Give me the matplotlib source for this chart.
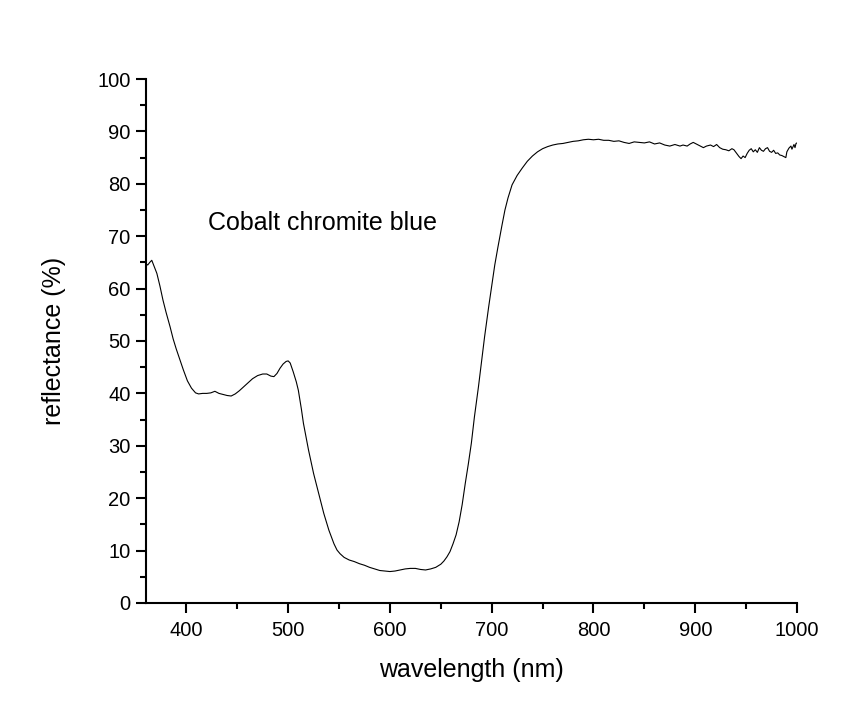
import numpy as np
import matplotlib.pyplot as plt
from matplotlib.ticker import MultipleLocator

plt.rcParams['font.family'] = ['Liberation Sans', 'DejaVu Sans']

# reflectance spectrum
wavelength = [360, 362, 364, 366, 368, 371, 374, 377, 380, 384, 387, 390, 394, 397,
              401, 405, 409, 412, 416, 420, 424, 428, 432, 436, 440, 444, 448, 452,
              456, 460, 465, 470, 475, 479, 483, 486, 489, 492, 495, 498, 500, 502,
              505, 508, 510, 513, 515, 518, 520, 525, 530, 535, 540, 545, 548, 551,
              555, 560, 565, 570, 575, 580, 585, 590, 595, 600, 605, 610, 615, 620,
              625, 630, 635, 640, 645, 650, 653, 656, 659, 662, 665, 668, 671, 674,
              677, 680, 683, 687, 690, 693, 697, 700, 703, 706, 710, 713, 716, 720,
              725, 730, 735, 740, 745, 750, 755, 760, 765, 770, 775, 780, 785, 790,
              795, 800, 805, 810, 815, 820, 825, 830, 835, 840, 845, 850, 855, 860,
              865, 870, 875, 880, 885, 888, 892, 895, 898, 900, 903, 906, 908, 911,
              915, 918, 921, 924, 927, 930, 933, 936, 938, 941, 943, 945, 947, 949,
              951, 953, 955, 957, 959, 961, 963, 965, 967, 969, 971, 973, 975, 977,
              979, 981, 983, 985, 987, 989, 990, 992, 994, 995, 997, 998, 999, 1000]
reflectance = [64.8, 64.5, 65.0, 65.4, 64.4, 62.9, 60.5, 57.8, 55.5, 52.7, 50.4, 48.5, 46.2, 44.5,
               42.4, 41.0, 40.1, 39.9, 40.0, 40.0, 40.1, 40.4, 40.0, 39.8, 39.6, 39.5, 39.9, 40.5,
               41.2, 41.9, 42.8, 43.4, 43.7, 43.7, 43.3, 43.2, 43.8, 44.8, 45.6, 46.1, 46.2, 45.8,
               44.1, 42.2, 40.6, 37.0, 34.3, 31.2, 29.2, 24.7, 20.9, 17.1, 13.9, 11.3, 10.1, 9.4,
               8.7, 8.2, 7.9, 7.5, 7.2, 6.8, 6.5, 6.2, 6.1, 6.0, 6.1, 6.3, 6.5, 6.6,
               6.6, 6.4, 6.3, 6.5, 6.8, 7.4, 8.0, 8.8, 9.8, 11.3, 13.0, 15.5, 18.8, 22.8,
               26.5, 30.5, 35.5, 41.3, 46.0, 50.8, 56.5, 60.5, 64.5, 67.8, 72.0, 75.0, 77.3, 79.8,
               81.6, 83.0, 84.3, 85.3, 86.1, 86.7, 87.1, 87.4, 87.6, 87.7, 87.9, 88.1, 88.2, 88.4,
               88.5, 88.4, 88.5, 88.3, 88.3, 88.1, 88.2, 87.9, 87.7, 88.0, 87.9, 87.8, 88.0, 87.6,
               87.8, 87.4, 87.2, 87.5, 87.2, 87.4, 87.2, 87.6, 87.9, 87.7, 87.4, 87.1, 86.9, 87.2,
               87.4, 87.1, 87.5, 86.9, 86.6, 86.5, 86.3, 86.7, 86.5, 85.7, 85.2, 84.8, 85.3, 85.0,
               85.8, 86.4, 86.7, 86.1, 86.5, 86.0, 86.9, 86.4, 86.2, 86.7, 86.9, 86.2, 86.0, 86.4,
               85.8, 85.9, 85.5, 85.4, 85.2, 85.0, 86.1, 86.8, 87.2, 86.6, 87.5, 86.9, 87.7, 87.8]

fig = plt.figure(figsize=(8.64, 7.13), dpi=100)
ax = fig.add_axes([0.1686, 0.1543, 0.7539, 0.7349])

ax.plot(wavelength, reflectance, color='black', lw=0.8)

ax.set_xlim(360, 1000)
ax.set_ylim(0, 100)
ax.xaxis.set_major_locator(MultipleLocator(100))
ax.xaxis.set_minor_locator(MultipleLocator(50))
ax.yaxis.set_major_locator(MultipleLocator(10))
ax.yaxis.set_minor_locator(MultipleLocator(5))

for s in ['top', 'right']:
    ax.spines[s].set_visible(False)
for s in ['left', 'bottom']:
    ax.spines[s].set_linewidth(1.5)

ax.tick_params(which='major', direction='out', length=7, width=1.5, labelsize=14.5)
ax.tick_params(axis='x', which='major', pad=6)
ax.tick_params(axis='y', which='major', pad=4)
ax.tick_params(which='minor', direction='out', length=4, width=1.5)

ax.set_xlabel('wavelength (nm)', fontsize=18, labelpad=13)
ax.set_ylabel('reflectance (%)', fontsize=18, labelpad=22)

ax.text(421, 72.5, 'Cobalt chromite blue', fontsize=18, va='center', ha='left')

fig.savefig('out.png', dpi=100)
